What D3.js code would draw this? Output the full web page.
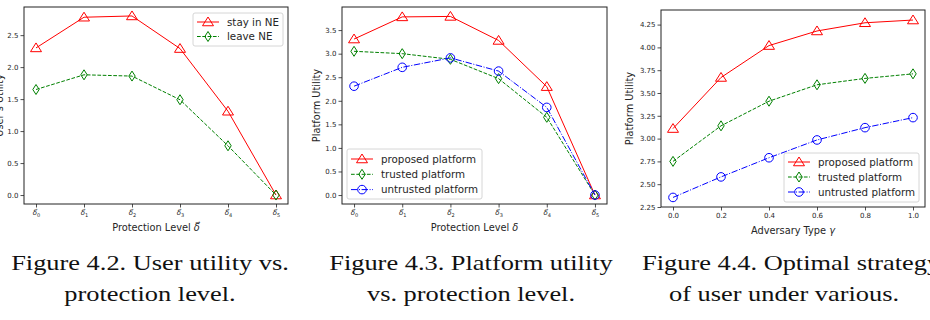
<!DOCTYPE html>
<html>
<head>
<meta charset="utf-8">
<script src="https://cdn.jsdelivr.net/npm/d3@7"></script>
<style>
  body { margin: 0; background: #fff; }
  svg { display: block; }
</style>
</head>
<body>
<svg id="chart" width="930" height="320"></svg>
<script>
'use strict';

// values
const deltaIdx = [0, 1, 2, 3, 4, 5];
const userStay = [2.30, 2.78, 2.80, 2.29, 1.31, 0.0];
const userLeave = [1.65, 1.88, 1.86, 1.49, 0.77, 0.0];

const platProposed = [3.31, 3.78, 3.79, 3.28, 2.30, 0.0];
const platTrusted = [3.05, 3.00, 2.88, 2.47, 1.65, 0.0];
const platUntrusted = [2.31, 2.71, 2.91, 2.63, 1.86, 0.0];

const gammaVals = [0.0, 0.2, 0.4, 0.6, 0.8, 1.0];
const advProposed = [3.11, 3.67, 4.02, 4.18, 4.27, 4.30];
const advTrusted = [2.75, 3.14, 3.41, 3.59, 3.66, 3.71];
const advUntrusted = [2.355, 2.58, 2.79, 2.985, 3.12, 3.23];

const yTicksUser = [0, 0.5, 1.0, 1.5, 2.0, 2.5];
const yTicksPlat = [0, 0.5, 1.0, 1.5, 2.0, 2.5, 3.0, 3.5];
const yTicksAdv = [2.25, 2.5, 2.75, 3.0, 3.25, 3.5, 3.75, 4.0, 4.25];
const xTicksGamma = [0.0, 0.2, 0.4, 0.6, 0.8, 1.0];

const captions = [
  ['Figure 4.2. User utility vs.', 'protection level.'],
  ['Figure 4.3. Platform utility', 'vs. protection level.'],
  ['Figure 4.4. Optimal strategy', 'of user under various.']
];

const fontSans = '"DejaVu Sans", sans-serif';
const tickColor = '#262626';

const styles = {
  red: { color: '#ff0000', dash: null, marker: 'tri' },
  green: { color: '#008000', dash: '3.7,1.6', marker: 'dia' },
  blue: { color: '#0000ff', dash: '6.4,1.6,1,1.6', marker: 'circ' }
};

const svg = d3.select('#chart');

function drawMarker(g, type, x, y, color) {
  if (type == 'tri') {
    const s = 5;
    g.append('path')
      .attr('d', 'M' + x + ',' + (y - s) + 'L' + (x + s * 1.1) + ',' + (y + s * 0.75) + 'L' + (x - s * 1.1) + ',' + (y + s * 0.75) + 'Z')
      .attr('fill', 'none').attr('stroke', color).attr('stroke-width', 1);
  } else if (type == 'dia') {
    g.append('path')
      .attr('d', 'M' + x + ',' + (y - 5) + 'L' + (x + 3.2) + ',' + y + 'L' + x + ',' + (y + 5) + 'L' + (x - 3.2) + ',' + y + 'Z')
      .attr('fill', 'none').attr('stroke', color).attr('stroke-width', 1);
  } else {
    g.append('circle')
      .attr('cx', x).attr('cy', y).attr('r', 4.3)
      .attr('fill', 'none').attr('stroke', color).attr('stroke-width', 1);
  }
}

function deltaLabel(sel, sub) {
  sel.text('');
  sel.append('tspan').attr('font-style', 'italic').text('\u03b4\u20d7');
  sel.append('tspan').attr('font-size', '5px').attr('dy', '1.5').text(sub);
}

function drawPanel(p) {
  const g = svg.append('g');
  const x = d3.scaleLinear().domain(p.xDomain).range([p.left, p.right]);
  const y = d3.scaleLinear().domain(p.yDomain).range([p.bottom, p.top]);

  // frame
  g.append('rect')
    .attr('x', p.left).attr('y', p.top)
    .attr('width', p.right - p.left).attr('height', p.bottom - p.top)
    .attr('fill', '#fff').attr('stroke', '#222').attr('stroke-width', 1);

  // axes
  const yAxis = d3.axisLeft(y).tickValues(p.yTicks).tickSize(3.5).tickPadding(2)
    .tickFormat(p.yFormat);
  const ga = g.append('g').attr('transform', 'translate(' + p.left + ',0)').call(yAxis);
  ga.select('.domain').remove();
  ga.selectAll('line').attr('stroke', '#222').attr('stroke-width', 0.8);
  ga.selectAll('text').attr('font-family', fontSans).attr('font-size', '7px').attr('fill', tickColor);

  const xAxis = d3.axisBottom(x).tickValues(p.xTicks).tickSize(3.5).tickPadding(3);
  const gx = g.append('g').attr('transform', 'translate(0,' + p.bottom + ')').call(xAxis);
  gx.select('.domain').remove();
  gx.selectAll('line').attr('stroke', '#222').attr('stroke-width', 0.8);
  gx.selectAll('text').attr('font-family', fontSans).attr('font-size', '7px').attr('fill', tickColor);
  if (p.deltaTicks) {
    gx.selectAll('text').each(function(d) { deltaLabel(d3.select(this), String(d)); });
  } else {
    gx.selectAll('text').text(d3.format('.1f'));
  }

  // labels
  g.append('text')
    .attr('x', (p.left + p.right) / 2).attr('y', p.bottom + 27)
    .attr('text-anchor', 'middle')
    .attr('font-family', fontSans).attr('font-size', '9.8px').attr('fill', tickColor)
    .text(p.xLabel[0])
    .append('tspan').attr('font-style', 'italic').text(p.xLabel[1]);

  g.append('text')
    .attr('transform', 'translate(' + p.yLabelX + ',' + ((p.top + p.bottom) / 2) + ') rotate(-90)')
    .attr('text-anchor', 'middle')
    .attr('font-family', fontSans).attr('font-size', '9.8px').attr('fill', tickColor)
    .text(p.yLabel);

  // series
  p.series.forEach(function(s) {
    const st = styles[s.style];
    const pts = p.xs.map(function(xv, i) { return [x(xv), y(s.values[i])]; });
    g.append('path')
      .attr('d', d3.line()(pts))
      .attr('fill', 'none').attr('stroke', st.color).attr('stroke-width', 1)
      .attr('stroke-dasharray', st.dash);
    pts.forEach(function(pt) { drawMarker(g, st.marker, pt[0], pt[1], st.color); });
  });

  // legend
  const lg = p.legend;
  g.append('rect')
    .attr('x', lg.x).attr('y', lg.y).attr('width', lg.w).attr('height', lg.h)
    .attr('rx', 2).attr('fill', '#fff').attr('fill-opacity', 0.85)
    .attr('stroke', '#cccccc').attr('stroke-width', 0.8);
  p.series.forEach(function(s, i) {
    const st = styles[s.style];
    const ry = lg.y + lg.first + i * lg.step;
    const hx = lg.x + 4;
    g.append('line')
      .attr('x1', hx).attr('x2', hx + 22).attr('y1', ry).attr('y2', ry)
      .attr('stroke', st.color).attr('stroke-width', 1)
      .attr('stroke-dasharray', st.dash);
    drawMarker(g, st.marker, hx + 11, ry, st.color);
    g.append('text')
      .attr('x', hx + 30).attr('y', ry).attr('dy', '0.35em')
      .attr('font-family', fontSans).attr('font-size', '10.3px').attr('fill', tickColor)
      .text(s.name);
  });
}

const platNames = ['proposed platform', 'trusted platform', 'untrusted platform'];

drawPanel({
  left: 24, right: 288, top: 7, bottom: 204,
  xDomain: [-0.25, 5.25], yDomain: [-0.14, 2.94],
  xs: deltaIdx, xTicks: deltaIdx, deltaTicks: true,
  yTicks: yTicksUser, yFormat: d3.format('.1f'),
  xLabel: ['Protection Level ', '\u03b4\u20d7'], yLabel: 'User\u2019s Utility', yLabelX: 3,
  series: [
    { name: 'stay in NE', values: userStay, style: 'red' },
    { name: 'leave NE', values: userLeave, style: 'green' }
  ],
  legend: { x: 193, y: 13, w: 90, h: 33, first: 9, step: 14.5 }
});

drawPanel({
  left: 342, right: 607, top: 7, bottom: 204,
  xDomain: [-0.25, 5.25], yDomain: [-0.19, 3.99],
  xs: deltaIdx, xTicks: deltaIdx, deltaTicks: true,
  yTicks: yTicksPlat, yFormat: d3.format('.1f'),
  xLabel: ['Protection Level ', '\u03b4'], yLabel: 'Platform Utility', yLabelX: 320,
  series: [
    { name: platNames[0], values: platProposed, style: 'red' },
    { name: platNames[1], values: platTrusted, style: 'green' },
    { name: platNames[2], values: platUntrusted, style: 'blue' }
  ],
  legend: { x: 347, y: 149, w: 135, h: 50, first: 10, step: 15.3 }
});

drawPanel({
  left: 661, right: 925, top: 10, bottom: 207,
  xDomain: [-0.05, 1.05], yDomain: [2.25, 4.41],
  xs: gammaVals, xTicks: xTicksGamma, deltaTicks: false,
  yTicks: yTicksAdv, yFormat: d3.format('.2f'),
  xLabel: ['Adversary Type ', '\u03b3'], yLabel: 'Platform Utility', yLabelX: 633,
  series: [
    { name: platNames[0], values: advProposed, style: 'red' },
    { name: platNames[1], values: advTrusted, style: 'green' },
    { name: platNames[2], values: advUntrusted, style: 'blue' }
  ],
  legend: { x: 784, y: 153, w: 135, h: 49, first: 9, step: 15 }
});

// captions (serif, stretched a bit to match the LaTeX face width)
const capX = [150, 471, 642];
const capAnchor = ['middle', 'middle', 'start'];
captions.forEach(function(lines, i) {
  lines.forEach(function(line, j) {
    let cx = capX[i];
    let anchor = capAnchor[i];
    if (i == 2 && j == 1) { cx = 784; anchor = 'middle'; }
    svg.append('text')
      .attr('transform', 'translate(' + cx + ',' + (270 + j * 31) + ') scale(1.2,1)')
      .attr('text-anchor', anchor)
      .attr('font-family', '"Liberation Serif", serif').attr('font-size', '22px')
      .attr('fill', '#111')
      .text(line);
  });
});
</script>
</body>
</html>
